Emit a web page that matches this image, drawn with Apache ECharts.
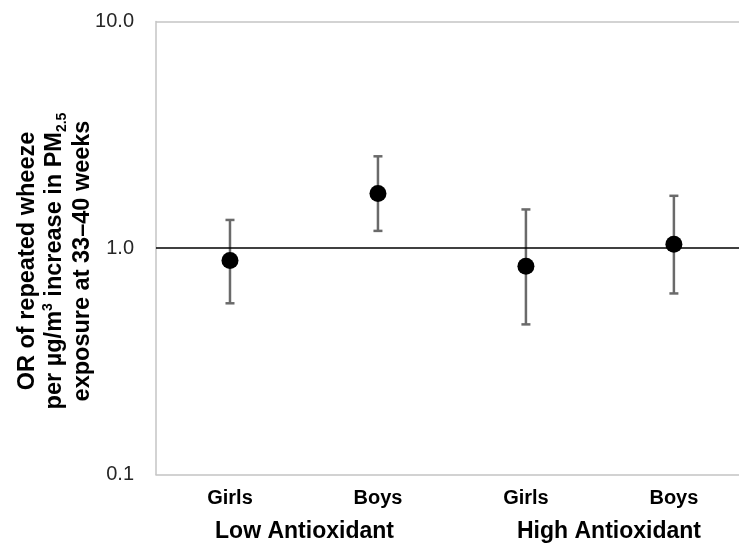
<!DOCTYPE html>
<html>
<head>
<meta charset="utf-8">
<script src="https://cdn.jsdelivr.net/npm/echarts@6/dist/echarts.min.js"></script>
<style>
  html, body { margin: 0; padding: 0; background: #fff; }
  #chart { width: 739px; height: 547px; }
</style>
</head>
<body>
<div id="chart"></div>
<script>
// Odds ratios with 95% CIs by sex within antioxidant strata
const categories = ['Girls', 'Boys', 'Girls', 'Boys'];
const groups = ['Low Antioxidant', 'High Antioxidant'];
const orValues = [0.88, 1.74, 0.83, 1.04];
const ciLower = [0.57, 1.19, 0.46, 0.63];
const ciUpper = [1.33, 2.54, 1.48, 1.70];
const yTicks = [0.1, 1, 10];

const FONT = '"Liberation Sans", Arial, Helvetica, sans-serif';
const FRAME = '#c4c4c4';
const catIndex = categories.map((c, i) => i);

const chart = echarts.init(document.getElementById('chart'), null, { renderer: 'canvas' });

const option = {
  animation: false,
  backgroundColor: '#ffffff',
  grid: {
    left: 156, top: 21.5, right: 0, bottom: 72.5,
    show: false,
    containLabel: false
  },
  // x positions are category indices; the plot area is open on the right
  xAxis: {
    type: 'value',
    min: -0.5,
    max: 3.44,
    axisLine: { show: true, onZero: false, lineStyle: { color: FRAME, width: 1.5 } },
    axisTick: { show: false },
    splitLine: { show: false },
    axisLabel: {
      customValues: catIndex,
      formatter: v => categories[Math.round(v)] || '',
      margin: 14,
      color: '#000',
      fontFamily: FONT,
      fontWeight: 'bold',
      fontSize: 20
    }
  },
  yAxis: {
    type: 'log',
    logBase: 10,
    min: yTicks[0],
    max: yTicks[yTicks.length - 1],
    axisLine: { show: true, onZero: false, lineStyle: { color: FRAME, width: 1.5 } },
    axisTick: { show: false },
    splitLine: { show: false },
    axisLabel: {
      margin: 22,
      color: '#262626',
      fontFamily: FONT,
      fontSize: 20,
      formatter: v => Number(v).toFixed(1)
    }
  },
  series: [
    {
      type: 'custom',
      name: '95% CI',
      z: 2,
      data: catIndex.map(i => [i, ciLower[i], ciUpper[i]]),
      renderItem: (params, api) => {
        const i = api.value(0);
        const lo = api.coord([i, api.value(1)]);
        const hi = api.coord([i, api.value(2)]);
        const half = 4.5;
        const style = { stroke: '#6a6a6a', lineWidth: 2.5 };
        return {
          type: 'group',
          children: [
            { type: 'line', shape: { x1: lo[0], y1: lo[1], x2: hi[0], y2: hi[1] }, style },
            { type: 'line', shape: { x1: hi[0] - half, y1: hi[1], x2: hi[0] + half, y2: hi[1] }, style },
            { type: 'line', shape: { x1: lo[0] - half, y1: lo[1], x2: lo[0] + half, y2: lo[1] }, style }
          ]
        };
      },
      markLine: {
        silent: true,
        symbol: 'none',
        label: { show: false },
        lineStyle: { color: '#000', width: 1.6, type: 'solid' },
        data: [
          { yAxis: 1 },
          // top edge of the plot frame
          { yAxis: yTicks[yTicks.length - 1], lineStyle: { color: FRAME, width: 1.5 } }
        ]
      }
    },
    {
      type: 'scatter',
      name: 'OR',
      z: 3,
      symbol: 'circle',
      symbolSize: 17,
      itemStyle: { color: '#000', opacity: 1 },
      emphasis: { disabled: true },
      data: catIndex.map(i => [i, orValues[i]])
    }
  ],
  graphic: [
    {
      type: 'text',
      x: 55, y: 261,
      rotation: Math.PI / 2,
      style: {
        text: 'OR of repeated wheeze\nper µg/m{sup|3} increase in PM{sub|2.5}\nexposure at 33–40 weeks',
        fontFamily: FONT,
        fontWeight: 'bold',
        fontSize: 23.5,
        lineHeight: 27.5,
        fill: '#000',
        align: 'center',
        verticalAlign: 'middle',
        rich: {
          sup: { fontFamily: FONT, fontWeight: 'bold', fontSize: 14, lineHeight: 14, verticalAlign: 'top', fill: '#000' },
          sub: { fontFamily: FONT, fontWeight: 'bold', fontSize: 14, lineHeight: 14, verticalAlign: 'bottom', fill: '#000' }
        }
      }
    },
    {
      type: 'text',
      x: 304.5, y: 532,
      style: {
        text: groups[0],
        fontFamily: FONT, fontWeight: 'bold', fontSize: 23,
        fill: '#000', align: 'center', verticalAlign: 'middle'
      }
    },
    {
      type: 'text',
      x: 609, y: 532,
      style: {
        text: groups[1],
        fontFamily: FONT, fontWeight: 'bold', fontSize: 23,
        fill: '#000', align: 'center', verticalAlign: 'middle'
      }
    }
  ]
};

chart.setOption(option);
</script>
</body>
</html>
